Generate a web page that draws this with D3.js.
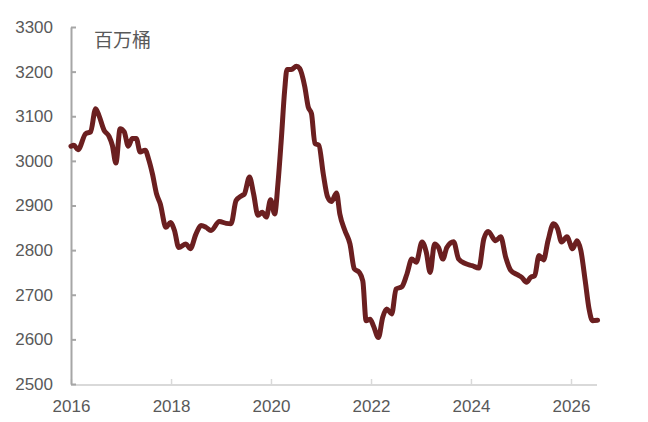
<!DOCTYPE html>
<html><head><meta charset="utf-8">
<script src="https://cdn.jsdelivr.net/npm/d3@7/dist/d3.min.js"></script>
<style>html,body{margin:0;padding:0;background:#fff;}svg{display:block;}</style>
</head><body>
<script>
const dates = ["2016-01-01","2016-01-22","2016-02-21","2016-04-17","2016-05-23","2016-06-29","2016-07-23","2016-08-29","2016-10-05","2016-10-29","2016-11-24","2016-12-25",
"2017-01-24","2017-02-22","2017-03-24","2017-04-22","2017-05-20","2017-06-26","2017-07-20","2017-08-18","2017-09-17","2017-10-14","2017-11-25","2017-12-27",
"2018-01-26","2018-02-26","2018-04-20","2018-05-21","2018-07-02","2018-08-08","2018-09-14","2018-10-20","2018-12-20",
"2019-02-08","2019-03-15","2019-04-21","2019-06-01","2019-06-21","2019-07-28","2019-08-27","2019-09-28","2019-10-29","2019-11-28","2019-12-29",
"2020-01-28","2020-02-21","2020-03-16","2020-04-10","2020-04-27","2020-05-29","2020-07-05","2020-07-29","2020-09-04","2020-09-29","2020-10-23","2020-11-17","2020-12-16",
"2021-01-17","2021-02-18","2021-03-18","2021-04-24","2021-05-18","2021-06-24","2021-07-31","2021-09-01","2021-10-07","2021-11-02","2021-11-26","2021-12-25",
"2022-01-19","2022-02-24","2022-03-27","2022-04-26","2022-06-01","2022-07-03","2022-08-14","2022-09-20","2022-10-26","2022-11-27",
"2023-01-09","2023-02-09","2023-03-09","2023-04-10","2023-05-09","2023-06-10","2023-07-09","2023-08-27","2023-10-03","2023-11-21",
"2024-01-10","2024-02-28","2024-04-04","2024-05-06","2024-06-29","2024-08-05","2024-09-11","2024-10-17","2024-12-05",
"2025-01-06","2025-02-10","2025-03-12","2025-04-11","2025-05-12","2025-06-14","2025-07-17","2025-08-26","2025-09-25","2025-10-24","2025-12-02",
"2026-01-13","2026-02-14","2026-03-14","2026-04-15","2026-05-13","2026-06-07","2026-07-14"];
const values = [3033,3035,3025,3061,3065,3117,3102,3069,3055,3035,2995,3072,
3065,3033,3050,3050,3020,3024,3005,2971,2926,2904,2851,2862,
2844,2806,2814,2803,2836,2855,2851,2844,2864,
2860,2859,2911,2922,2926,2964,2926,2878,2885,2874,2913,
2881,2949,3046,3158,3205,3205,3212,3207,3166,3121,3106,3039,3035,
2971,2919,2909,2928,2881,2844,2814,2758,2750,2731,2642,2645,
2630,2604,2649,2668,2657,2713,2718,2746,2780,2773,
2818,2795,2750,2814,2806,2780,2806,2819,2780,2770,
2765,2760,2825,2842,2821,2830,2784,2755,2745,
2739,2728,2739,2743,2788,2778,2821,2859,2848,2818,2830,
2803,2821,2799,2731,2668,2642,2643];
const yTicks = [2500,2600,2700,2800,2900,3000,3100,3200,3300];
const xTickYears = [2016,2018,2020,2022,2024,2026];
const unitLabel = "百万桶";

const W = 648, H = 422;
const parse = d3.timeParse("%Y-%m-%d");
const data = dates.map((d,i)=>({date:parse(d), value:values[i]}));

const svg = d3.select("body").append("svg").attr("width",W).attr("height",H);
const x = d3.scaleTime().domain([new Date(2016,0,1), new Date(2026,0,1)]).range([71,571]);
const y = d3.scaleLinear().domain([2500,3300]).range([384,27]);
const font = "'Liberation Sans','DejaVu Sans',sans-serif";

// x axis
const xAxis = svg.append("g").attr("transform","translate(0,385)")
  .call(d3.axisBottom(x).tickValues(xTickYears.map(yr=>new Date(yr,0,1))).tickFormat(d3.timeFormat("%Y")).tickSizeInner(-6).tickSizeOuter(0).tickPadding(15));
xAxis.select(".domain").attr("stroke","#d9d9d9").attr("stroke-width",2).attr("d","M71,0H597");
xAxis.selectAll(".tick line").attr("stroke","#d9d9d9").attr("stroke-width",1.5);
xAxis.selectAll(".tick text").attr("fill","#595959").style("font-size","17px").style("font-family",font);

// y axis
const yAxis = svg.append("g").attr("transform","translate(71,0)")
  .call(d3.axisLeft(y).tickValues(yTicks).tickFormat(d3.format("d")).tickSizeInner(-5).tickSizeOuter(0).tickPadding(18));
yAxis.select(".domain").attr("stroke","#a6a6a6").attr("stroke-width",2);
yAxis.selectAll(".tick line").attr("stroke","#a6a6a6").attr("stroke-width",2);
yAxis.selectAll(".tick text").attr("fill","#595959").style("font-size","17px").style("font-family",font);

// line
const line = d3.line().x(d=>x(d.date)).y(d=>y(d.value)).curve(d3.curveMonotoneX);
svg.append("path").datum(data).attr("d",line).attr("fill","none")
  .attr("stroke","#6b1f20").attr("stroke-width",5).attr("stroke-linejoin","round").attr("stroke-linecap","round");

// unit label
svg.append("text").attr("x",94).attr("y",47).text(unitLabel)
  .attr("fill","#595959").style("font-size","19px").style("font-family","'Noto Sans CJK SC',sans-serif");
</script>
</body></html>
